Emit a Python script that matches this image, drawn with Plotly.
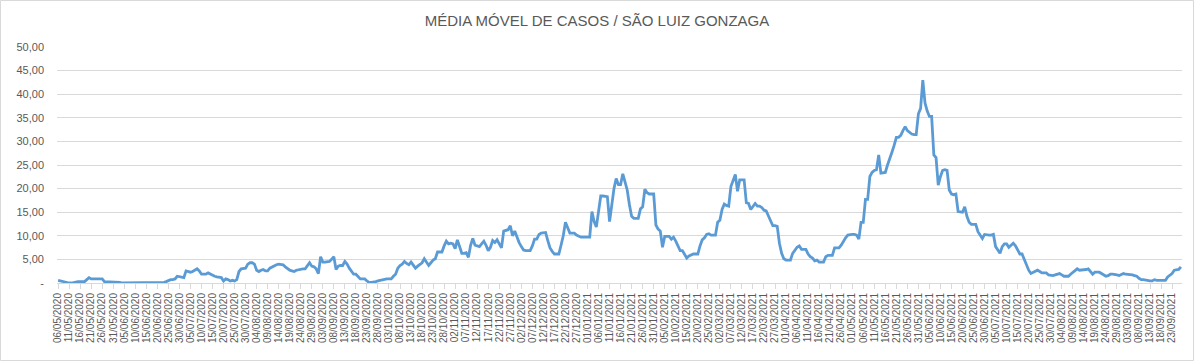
import pandas as pd
import plotly.graph_objects as go

# Daily moving average values, 06/05/2020 .. 27/09/2021
values = [
    0.57, 0.43, 0.29, 0.14, 0.14, 0.00, 0.00, 0.14, 0.14, 0.29,
    0.29, 0.29, 0.29, 0.71, 1.14, 0.86, 0.86, 0.86, 0.86, 0.86,
    0.86, 0.29, 0.29, 0.29, 0.29, 0.29, 0.29, 0.14, 0.14, 0.00,
    0.00, 0.00, 0.00, 0.00, 0.00, 0.00, 0.00, 0.00, 0.00, 0.00,
    0.00, 0.00, 0.00, 0.00, 0.00, 0.00, 0.00, 0.00, 0.14, 0.29,
    0.57, 0.71, 0.71, 0.86, 1.43, 1.29, 1.14, 1.14, 2.57, 2.43,
    2.29, 2.43, 2.71, 3.00, 2.57, 1.86, 1.86, 1.86, 2.14, 1.86,
    1.57, 1.43, 1.29, 1.14, 1.14, 0.43, 0.86, 0.71, 0.43, 0.57,
    0.43, 0.71, 2.43, 3.00, 3.14, 3.14, 4.00, 4.29, 4.29, 4.00,
    2.71, 2.43, 2.71, 2.86, 2.57, 2.57, 3.14, 3.43, 3.57, 3.86,
    4.00, 3.86, 3.86, 3.43, 3.00, 2.71, 2.57, 2.43, 2.71, 2.86,
    3.00, 3.00, 3.00, 3.57, 4.29, 3.57, 3.43, 3.00, 2.00, 5.57,
    4.43, 4.43, 4.43, 4.57, 5.00, 5.57, 2.86, 3.57, 3.71, 3.71,
    4.57, 4.00, 3.14, 2.57, 1.86, 1.86, 1.29, 0.86, 0.86, 0.86,
    0.43, 0.14, 0.14, 0.14, 0.29, 0.43, 0.57, 0.57, 0.71, 0.86,
    0.86, 0.86, 1.43, 1.86, 3.14, 3.71, 4.00, 4.57, 4.14, 3.86,
    4.43, 3.71, 3.14, 3.57, 3.86, 4.29, 5.14, 4.43, 3.71, 4.29,
    4.86, 5.14, 6.57, 6.57, 6.57, 7.86, 8.86, 8.29, 8.43, 8.29,
    7.29, 9.14, 7.71, 6.29, 6.29, 6.43, 5.43, 8.00, 9.43, 8.00,
    7.86, 7.71, 8.29, 8.86, 8.00, 6.86, 7.57, 9.00, 8.57, 9.14,
    8.29, 7.43, 11.00, 11.14, 11.29, 12.14, 10.00, 11.00, 9.71, 8.57,
    7.71, 7.00, 6.86, 6.86, 6.86, 7.86, 9.29, 9.29, 10.29, 10.57,
    10.57, 10.71, 9.00, 7.43, 6.71, 6.14, 6.14, 6.14, 8.00, 10.00,
    12.86, 11.86, 10.57, 10.57, 10.57, 10.14, 9.86, 9.71, 9.71, 9.71,
    9.71, 9.71, 15.14, 13.00, 11.86, 15.00, 18.43, 18.43, 18.43, 18.29,
    13.00, 16.86, 20.00, 22.14, 20.86, 20.86, 23.14, 21.43, 19.71, 16.57,
    14.14, 13.71, 13.71, 13.71, 15.71, 16.14, 19.86, 19.14, 18.86, 18.86,
    18.86, 12.29, 11.43, 11.00, 7.57, 9.86, 9.86, 9.86, 9.29, 9.71,
    8.86, 7.71, 6.86, 6.86, 6.14, 5.29, 5.71, 6.00, 6.14, 6.14,
    6.14, 7.86, 9.14, 9.57, 10.29, 10.43, 10.14, 10.14, 10.14, 12.86,
    13.29, 15.57, 16.71, 16.43, 16.29, 20.43, 21.71, 23.00, 19.43, 21.86,
    21.86, 21.86, 17.00, 16.86, 15.57, 16.29, 16.86, 16.29, 16.29, 16.00,
    15.43, 15.29, 14.29, 13.29, 12.14, 12.14, 12.00, 8.43, 6.29, 5.14,
    4.86, 4.86, 4.86, 6.29, 7.00, 7.57, 7.86, 7.14, 7.14, 7.14,
    6.14, 5.57, 5.29, 4.71, 4.86, 4.43, 4.43, 4.43, 5.57, 5.86,
    5.86, 5.86, 7.43, 7.43, 7.43, 8.00, 8.86, 9.57, 10.14, 10.29,
    10.29, 10.29, 10.14, 9.29, 12.86, 12.86, 17.71, 17.71, 22.57, 23.43,
    23.86, 24.00, 27.14, 23.29, 23.29, 23.43, 25.00, 26.57, 27.71, 29.14,
    30.86, 30.86, 31.29, 32.29, 33.14, 32.29, 31.86, 31.57, 31.43, 31.43,
    35.86, 37.00, 43.00, 38.14, 36.43, 35.29, 35.29, 27.14, 26.57, 20.71,
    22.57, 23.86, 24.00, 23.86, 19.71, 18.86, 18.71, 18.86, 15.14, 15.00,
    15.00, 16.14, 14.14, 12.86, 12.43, 12.43, 12.43, 10.86, 10.00, 9.43,
    10.29, 10.14, 10.14, 10.14, 10.29, 7.71, 6.86, 6.29, 7.71, 8.29,
    8.29, 7.57, 8.00, 8.43, 7.86, 6.86, 6.14, 6.14, 5.00, 3.57,
    2.71, 2.00, 2.29, 2.57, 2.71, 2.43, 2.14, 2.14, 2.14, 1.71,
    1.57, 1.57, 1.71, 1.86, 2.00, 1.71, 1.43, 1.43, 1.43, 1.86,
    2.29, 2.71, 3.00, 2.71, 2.71, 2.71, 2.86, 3.00, 2.29, 1.86,
    2.29, 2.29, 2.29, 2.00, 1.71, 1.43, 1.57, 1.86, 1.86, 1.86,
    1.71, 1.57, 1.86, 2.00, 1.86, 1.86, 1.86, 1.71, 1.57, 1.43,
    1.00, 0.71, 0.71, 0.57, 0.57, 0.43, 0.43, 0.71, 0.57, 0.57,
    0.57, 0.57, 0.57, 1.29, 1.57, 2.00, 2.71, 2.71, 2.86, 3.43,
]

dates = list(pd.date_range("2020-05-06", periods=len(values), freq="D"))
tick_dates = dates[::5]
tick_labels = [d.strftime("%d/%m/%Y") for d in tick_dates]
y_ticks = [0, 5, 10, 15, 20, 25, 30, 35, 40, 45, 50]
y_labels = ["-"] + [f"{v:.2f}".replace(".", ",") for v in y_ticks[1:]]

TXT = "#595959"
FONT = "Liberation Sans"

fig = go.Figure()
fig.add_trace(go.Scatter(
    x=dates, y=values, mode="lines",
    line=dict(color="#5B9BD5", width=2.8),
    hoverinfo="skip", showlegend=False,
))

W, H = 1194, 361
ml, mr, mt, mb = 57, 12, 47, 78

fig.update_layout(
    width=W, height=H,
    margin=dict(l=ml, r=mr, t=mt, b=mb, pad=0),
    paper_bgcolor="white", plot_bgcolor="white",
    title=dict(text="MÉDIA MÓVEL DE CASOS / SÃO LUIZ GONZAGA",
               x=0.5, xanchor="center", y=1 - 21 / H, yanchor="middle",
               font=dict(family=FONT, size=15, color=TXT)),
    font=dict(family=FONT, color=TXT),
    xaxis=dict(
        range=[dates[0] - pd.Timedelta(hours=12), dates[-1] + pd.Timedelta(hours=12)],
        tickmode="array", tickvals=tick_dates, ticktext=tick_labels,
        tickangle=-90, tickfont=dict(family=FONT, size=10, color=TXT),
        showgrid=False, showline=True, linecolor="#d9d9d9", linewidth=1,
        ticks="outside", ticklen=5, tickcolor="#d9d9d9",
        zeroline=False,
    ),
    yaxis=dict(
        range=[0, 50], tickmode="array", tickvals=y_ticks, ticktext=y_labels,
        tickfont=dict(family=FONT, size=11, color=TXT),
        showgrid=True, gridcolor="#d9d9d9", gridwidth=1,
        zeroline=False, showline=False, ticks="", ticklabelstandoff=12,
    ),
)

# chart-area border
pw = W - ml - mr
ph = H - mt - mb
fig.add_shape(type="rect", xref="paper", yref="paper",
              x0=(0.5 - ml) / pw, x1=(W - 0.5 - ml) / pw,
              y0=-(H - 0.5 - mt - ph) / ph, y1=1 + (mt - 0.5) / ph,
              line=dict(color="#d9d9d9", width=1), fillcolor="rgba(0,0,0,0)",
              layer="below")

fig.write_html("out.html")
